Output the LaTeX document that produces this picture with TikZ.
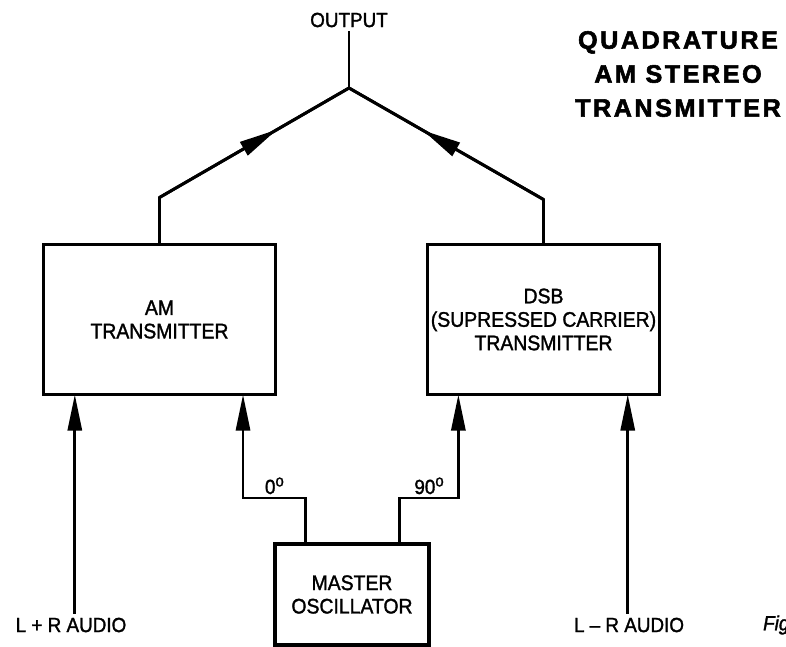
\documentclass[tikz,border=0pt]{standalone}
\usepackage{fontspec}
\setmainfont{Liberation Sans}[FakeBold=1.5, FakeStretch=0.92]
\newfontfamily\titlefont{Liberation Sans}[LetterSpace=10, BoldFeatures={FakeBold=2.2}]
\usetikzlibrary{arrows.meta, positioning, calc, decorations.markings}
\newcommand{\degsym}{\raisebox{6.5pt}{\fontsize{14}{14}\selectfont o}}

\begin{document}
\begin{tikzpicture}[
    x=0.03cm, y=-0.03cm,
    txt/.style={font=\fontsize{17.5}{21}\selectfont, align=center},
    block/.style={rectangle, draw, line width=3.1pt, outer sep=0pt, inner sep=1pt, minimum width=6.96cm, minimum height=4.5cm, align=center, font=\fontsize{18}{20}\selectfont},
    wire/.style={line width=2.5pt},
    arrow/.style={wire, -{Triangle[length=1.08cm, width=0.42cm]}},
    midarrow/.style={wire, decoration={markings, mark=at position 0.62 with {\arrow{Triangle[length=1.15cm, width=0.45cm]}}}, postaction={decorate}},
    title/.style={font=\titlefont\bfseries\fontsize{21.5}{29}\selectfont, align=center},
]
    \useasboundingbox (0,0) rectangle (786,647);

    \node[block] (am) at (159.5,319.5) {AM\\TRANSMITTER};
    \node[block, right=4.56cm of am] (dsb) {DSB\\(SUPRESSED CARRIER)\\TRANSMITTER};
    \node[block, minimum width=4.62cm, minimum height=3.03cm] (osc) at (352,594.5) {MASTER\\OSCILLATOR};

    \node[txt] (out) at (349,20) {OUTPUT};
    \node[title] (title) at (678,74) {QUADRATURE\\AM STEREO\\TRANSMITTER};
    \node[txt] (lpr) at (71,625) {L + R AUDIO};
    \node[txt] (lmr) at (629,625) {L – R AUDIO};
    \node[txt, anchor=west, font=\fontsize{17.5}{21}\selectfont\itshape] (fig) at (759,625) {Fig};

    \coordinate (join) at (349,88);
    \coordinate (amBend) at ($(am.north)+(0,-47)$);
    \coordinate (dsbBend) at ($(dsb.north)+(0,-45)$);
    \coordinate (amIn1) at ($(am.south west)!0.135!(am.south east)$);
    \coordinate (amIn2) at ($(am.south west)!0.86!(am.south east)$);
    \coordinate (dsbIn1) at ($(dsb.south west)!0.133!(dsb.south east)$);
    \coordinate (dsbIn2) at ($(dsb.south west)!0.863!(dsb.south east)$);
    \coordinate (oscOut1) at ($(osc.north west)!0.2!(osc.north east)$);
    \coordinate (oscOut2) at ($(osc.north west)!0.81!(osc.north east)$);

    \draw[wire] (am.north) -- (amBend) -- (join) -- (dsbBend) -- (dsb.north);
    \draw[midarrow] (amBend) -- (join);
    \draw[midarrow] (dsbBend) -- (join);
    \draw[wire] (join) -- (out.south);

    \draw[arrow] (lpr.north -| amIn1) -- (amIn1);
    \draw[arrow] (lmr.north -| dsbIn2) -- (dsbIn2);
    \draw[arrow] (oscOut1) -- ++(0,-46) -| node[pos=0.25, above, txt, inner sep=2pt] (deg0) {0\degsym} (amIn2);
    \draw[arrow] (oscOut2) -- ++(0,-46) -| node[pos=0.25, above, txt, inner sep=2pt] (deg90) {90\degsym} (dsbIn1);
\end{tikzpicture}
\end{document}
